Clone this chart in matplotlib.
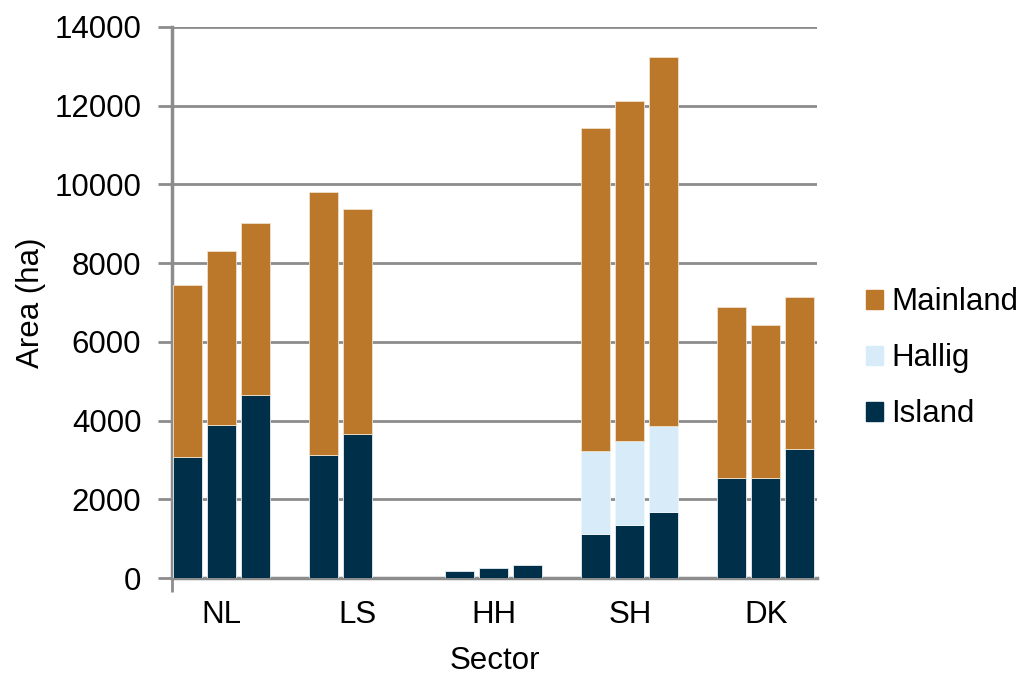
import matplotlib
matplotlib.use("Agg")
import matplotlib.pyplot as plt
from matplotlib.patches import Patch
import numpy as np

plt.rcParams['font.family'] = ['Liberation Sans', 'DejaVu Sans']

sectors = ["NL", "LS", "HH", "SH", "DK"]
# three bars per sector (LS third bar missing -> 0)
island = [[3070, 3890, 4650],
          [3130, 3660, 0],
          [180, 255, 330],
          [1120, 1350, 1680],
          [2540, 2540, 3270]]
hallig = [[0, 0, 0],
          [0, 0, 0],
          [0, 0, 0],
          [2110, 2130, 2180],
          [0, 0, 0]]
totals = [[7450, 8310, 9020],
          [9810, 9370, 0],
          [180, 255, 330],
          [11430, 12120, 13240],
          [6880, 6430, 7140]]

c_main = "#BB782A"
c_hallig = "#D8EBF8"
c_island = "#003049"
grid_c = "#8C8C8C"
fs = 22.5

fig = plt.figure(figsize=(10.23, 6.75), dpi=100)
ax = fig.add_axes([0.168, 0.1437, 0.6306, 0.8163])

w = 0.85
for i in range(len(sectors)):
    for j in range(3):
        x = i * 4 + j
        isl = island[i][j]
        hal = hallig[i][j]
        tot = totals[i][j]
        if tot == 0:
            continue
        main = tot - isl - hal
        ax.bar(x, isl, width=w, color=c_island, edgecolor="#e8eef2", linewidth=0.6, zorder=3)
        if hal > 0:
            ax.bar(x, hal, bottom=isl, width=w, color=c_hallig, edgecolor="#f2f8fc", linewidth=0.6, zorder=3)
        if main > 0:
            ax.bar(x, main, bottom=isl + hal, width=w, color=c_main, edgecolor="#f0e0cc", linewidth=0.6, zorder=3)

ax.set_xlim(-0.46, 18.5)
ax.set_ylim(0, 14000)
ax.set_yticks(np.arange(0, 14001, 2000))
ax.set_xticks([i * 4 + 1 for i in range(len(sectors))])
ax.set_xticklabels(sectors)
ax.set_xticks([-0.46], minor=True)
ax.tick_params(axis='x', which='major', length=0, pad=16, labelsize=fs)
ax.tick_params(axis='x', which='minor', length=10, width=2, color=grid_c)
ax.tick_params(axis='y', length=10, width=2, color=grid_c, labelsize=fs, pad=12)

ax.yaxis.grid(True, color=grid_c, linewidth=2, zorder=0)
ax.set_axisbelow(True)
for s in ["top", "right"]:
    ax.spines[s].set_visible(False)
for s in ["left", "bottom"]:
    ax.spines[s].set_color(grid_c)
    ax.spines[s].set_linewidth(2.5)

ax.set_ylabel("Area (ha)", fontsize=fs, labelpad=6)
ax.set_xlabel("Sector", fontsize=fs, labelpad=11)

handles = [Patch(color=c_main, label="Mainland"),
           Patch(color=c_hallig, label="Hallig"),
           Patch(color=c_island, label="Island")]
leg = fig.legend(handles=handles, loc="center left", bbox_to_anchor=(0.8465, 0.469),
                 frameon=False, fontsize=fs, handlelength=0.55, handleheight=0.55,
                 handletextpad=0.25, labelspacing=0.83, borderpad=0, borderaxespad=0)

fig.savefig("out.png", dpi=100)
